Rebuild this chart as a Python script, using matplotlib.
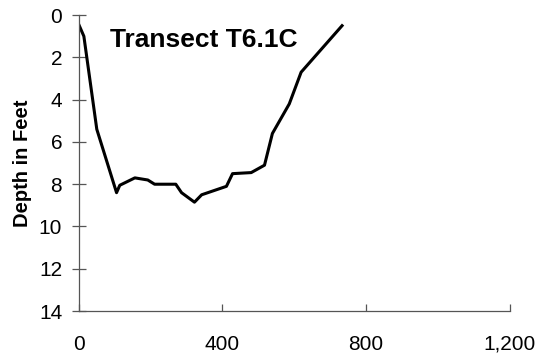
import matplotlib.pyplot as plt

plt.rcParams["font.family"] = ["Liberation Sans", "DejaVu Sans"]

# transect profile: distance (ft) and depth (ft)
distance = [0, 14, 50, 105, 114, 156, 192, 211, 270, 286, 322, 342, 411,
            428, 480, 517, 539, 586, 619, 733]
depth = [0.45, 1.0, 5.4, 8.4, 8.05, 7.7, 7.8, 8.0, 8.0, 8.4, 8.85, 8.5, 8.1,
         7.5, 7.45, 7.1, 5.6, 4.2, 2.7, 0.5]

x_ticks = [0, 400, 800, 1200]
x_labels = ["0", "400", "800", "1,200"]
y_ticks = [0, 2, 4, 6, 8, 10, 12, 14]

fig = plt.figure(figsize=(5.4, 3.6), dpi=100)
ax = fig.add_axes([0.146, 0.136, 0.798, 0.822])

ax.plot(distance, depth, color="black", lw=2.2)

ax.set_xlim(0, 1200)
ax.set_ylim(14, 0)
ax.set_xticks(x_ticks)
ax.set_xticklabels(x_labels)
ax.set_yticks(y_ticks)

for s in ["top", "right"]:
    ax.spines[s].set_visible(False)
for s in ["left", "bottom"]:
    ax.spines[s].set_color("#555555")
    ax.spines[s].set_linewidth(0.9)

ax.tick_params(axis="x", direction="in", length=5, width=0.9, color="#555555",
               labelsize=15, pad=17)
ax.tick_params(axis="y", direction="inout", length=10, width=0.9, color="#555555",
               labelsize=15, pad=7)

ax.set_ylabel("Depth in Feet", fontsize=14.5, fontweight="bold", labelpad=5)
ax.text(0.29, 0.915, "Transect T6.1C", transform=ax.transAxes, ha="center",
        va="center", fontsize=19, fontweight="bold")

fig.savefig("out.png", dpi=100)
